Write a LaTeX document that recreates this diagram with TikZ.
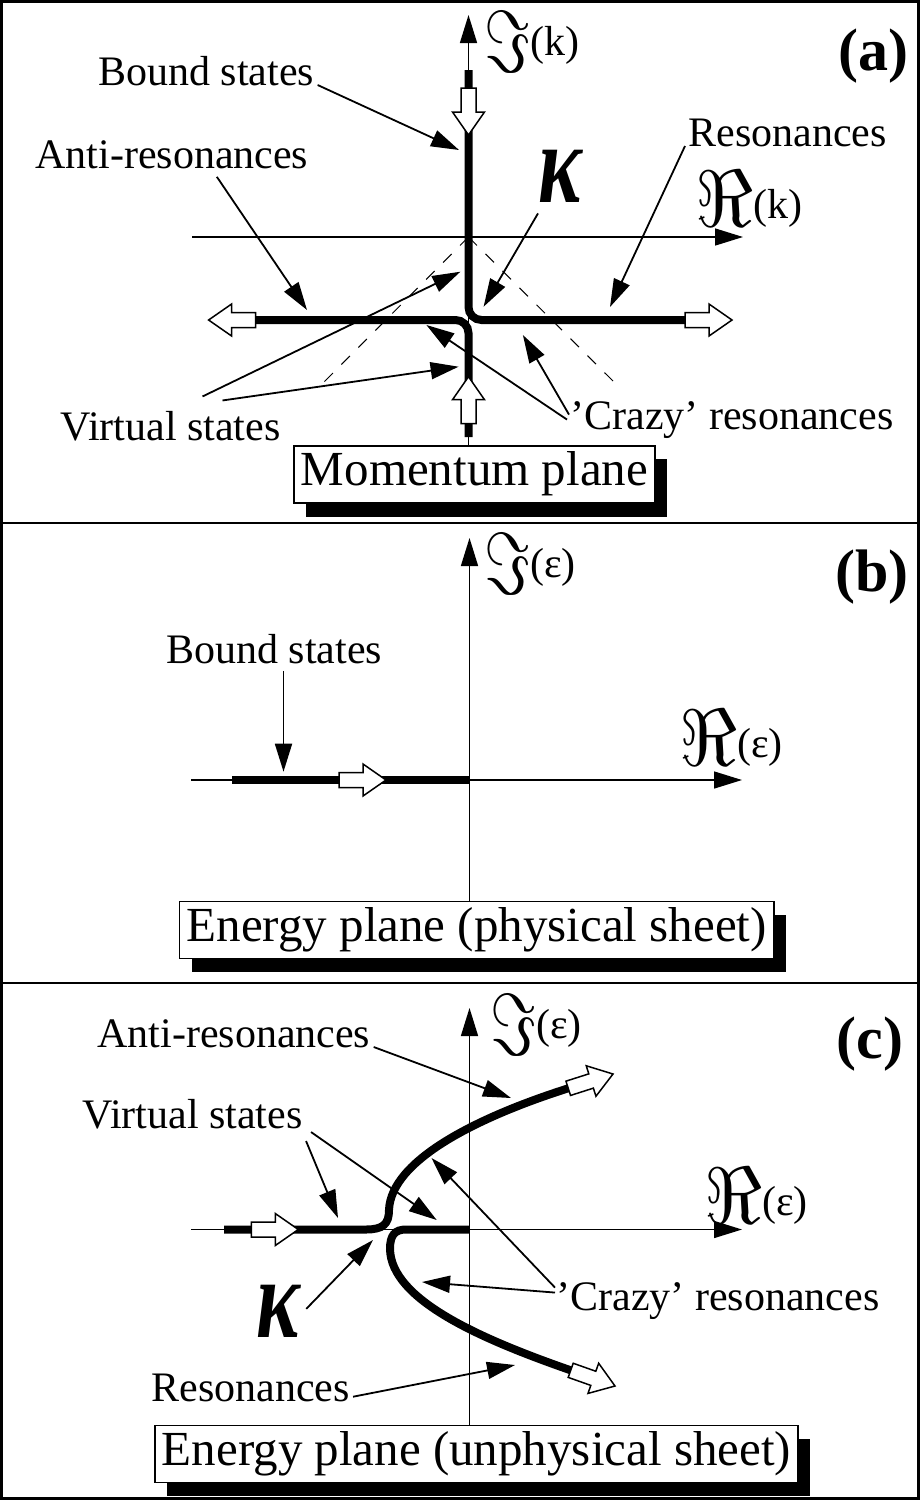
\RequirePackage{fix-cm}
\documentclass[tikz,border=0pt]{standalone}
\usepackage{fontspec}
\setmainfont{Liberation Serif}
\usetikzlibrary{arrows.meta,shadows}
\tikzset{
  lbl/.style={inner sep=1.5pt, font=\fontsize{21}{24}\selectfont},
  panel/.style={inner sep=0pt, font=\fontsize{30}{34}\selectfont\bfseries},
  planebox/.style={draw, line width=0.75pt, fill=white, inner xsep=3.5pt, inner ysep=3.25pt,
                   text height=16.75pt, text depth=5.3pt, font=\fontsize{24.5}{28}\selectfont,
                   drop shadow={shadow xshift=6pt, shadow yshift=-6.75pt, opacity=1, fill=black}},
  axis/.style={line width=0.75pt, -{Triangle[length=14pt,width=8.5pt]}},
  lead/.style={line width=0.9pt, -{Triangle[length=14pt,width=8.5pt]}},
  track/.style={line width=4pt},
  guide/.style={line width=0.5pt, dash pattern=on 6pt off 6pt},
  hollow/.pic={\draw[fill=white, line width=0.75pt]
     (0,0) -- (-23,16) -- (-23,7.5) -- (-47,7.5) -- (-47,-7.5) -- (-23,-7.5) -- (-23,-16) -- cycle;}
}
\newcommand{\Kap}{{\fontsize{57}{57}\selectfont\bfseries\itshape\scalebox{0.72}[1]{κ}}}
\newcommand{\ImOf}[1]{{\fontsize{44}{44}\selectfont\raisebox{-8.5pt}{\scalebox{0.72}[1]{$\Im$}}}(#1)}
\newcommand{\ReOf}[1]{{\fontsize{40}{40}\selectfont\raisebox{-4pt}{$\Re$}}(#1)}

\begin{document}
\begin{tikzpicture}[x=0.5pt,y=-0.5pt]
\useasboundingbox (0,0) rectangle (920,1500);
\coordinate (NW) at (1.5,1.5);
\coordinate (SE) at (918.5,1498.5);
\coordinate (s1) at (1.5,523);
\coordinate (s2) at (1.5,983);
\draw[line width=1.25pt] (NW) rectangle (SE);
\draw[line width=1.25pt] (s1) -- (s1 -| SE) (s2) -- (s2 -| SE);

% (a) momentum plane
\node[planebox] (mbox) at (474.5,474.5) {Momentum plane};
\coordinate (aO) at (468.5,237);
\coordinate (aImTip) at (468.5,15);
\coordinate (aReL) at (192,237);
\coordinate (aReTip) at (743,237);
\draw[axis] (aO |- mbox.north) -- (aImTip);
\draw[axis] (aReL) -- (aReTip);
\node[lbl, anchor=base west] (aIm) at (481,55) {\ImOf{k}};
\node[lbl, anchor=base west] (aRe) at (692,218) {\ReOf{k}};
\node[panel, anchor=base west] (la) at (838,70) {(a)};
\coordinate (dL) at (319,387);
\coordinate (dR) at (618,386);
\draw[guide] (aO) -- (dL) (aO) -- (dR);
\draw[track, rounded corners=6.5pt] (468.5,70) -- (468.5,320) -- (685,320);
\draw[track, rounded corners=6.5pt] (255,320) -- (468.5,320) -- (468.5,437);
\pic[rotate=-90] at (468.5,135) {hollow};
\pic[rotate=90] at (468.5,376.7) {hollow};
\pic[rotate=180] at (208.6,320) {hollow};
\pic at (732,320) {hollow};

\node[lbl, anchor=base west] (bs) at (95,85) {Bound states};
\node[lbl, anchor=base west] (ar) at (32,168) {Anti-resonances};
\node[lbl, anchor=base west] (rs) at (685,146) {Resonances};
\node[lbl, anchor=base west] (ka) at (535,202) {\Kap};
\node[lbl, anchor=base west] (vs) at (57,440) {Virtual states};
\node[lbl, anchor=base west] (cz) at (567,429) {'Crazy' resonances};
\coordinate (t-bs) at (459,150);
\coordinate (t-ar) at (307,310);
\coordinate (t-rs) at (610,307);
\coordinate (t-ka) at (483.6,306.7);
\coordinate (t-vs1) at (460.4,271.7);
\coordinate (t-vs2) at (458.6,366.7);
\coordinate (t-cz1) at (426.4,325);
\coordinate (t-cz2) at (522.9,335);
\draw[lead] (bs.base east) -- (t-bs);
\draw[lead] ([shift={(45,5)}]ar.south) -- (t-ar);
\draw[lead] (rs.base west) -- (t-rs);
\draw[lead] ([shift={(3,8)}]ka.south west) -- (t-ka);
\draw[lead] ([shift={(32,-11)}]vs.north) -- (t-vs1);
\draw[lead] ([shift={(52,-7)}]vs.north) -- (t-vs2);
\draw[lead] (cz.west) -- (t-cz1);
\draw[lead] ([shift={(2,-5)}]cz.west) -- (t-cz2);

% (b) energy plane, physical sheet
\node[planebox] (pbox) at (476.75,930) {Energy plane (physical sheet)};
\coordinate (bO) at (469.5,780);
\coordinate (bImTip) at (469.5,538);
\coordinate (bReL) at (191,780);
\coordinate (bReTip) at (742,780);
\draw[axis] (bO |- pbox.north) -- (bImTip);
\draw[axis] (bReL) -- (bReTip);
\node[lbl, anchor=base west] (bIm) at (481,577) {\ImOf{ε}};
\node[lbl, anchor=base west] (bRe) at (676,757) {\ReOf{ε}};
\node[panel, anchor=base west] (lb) at (835,591) {(b)};
\draw[track] (232,780) -- (bO);
\pic at (386,780) {hollow};
\node[lbl, anchor=base west] (bs2) at (163,663) {Bound states};
\coordinate (t-bs2) at (283.5,771.7);
\draw[lead] ([yshift=-2pt]bs2.south -| t-bs2) -- (t-bs2);

% (c) energy plane, unphysical sheet
\node[planebox] (ubox) at (476.5,1454) {Energy plane (unphysical sheet)};
\coordinate (cO) at (469.5,1229.5);
\coordinate (cImTip) at (469.5,1008);
\coordinate (cReL) at (191,1229.5);
\coordinate (cReTip) at (742,1229.5);
\draw[axis] (cO |- ubox.north) -- (cImTip);
\draw[axis] (cReL) -- (cReTip);
\node[lbl, anchor=base west] (cIm) at (487,1038) {\ImOf{ε}};
\node[lbl, anchor=base west] (cRe) at (701,1215) {\ReOf{ε}};
\node[panel, anchor=base west] (lc) at (836,1058) {(c)};
\draw[track] (224,1229.5) -- (366,1229.5) .. controls (383,1229.5) and (389,1224) .. (389,1210)
  .. controls (391,1160) and (478,1117) .. (568.2,1088.3);
\draw[track] (cO) -- (406,1229.5) .. controls (395,1229.5) and (390,1235) .. (390,1249)
  .. controls (391,1300) and (481,1339) .. (570.7,1370.3);
\pic at (298.3,1229.5) {hollow};
\pic[rotate=17.7] at (613,1074) {hollow};
\pic[rotate=-19.5] at (615,1386) {hollow};

\node[lbl, anchor=base west] (ar3) at (94,1047) {Anti-resonances};
\node[lbl, anchor=base west] (vs3) at (79,1128) {Virtual states};
\node[lbl, anchor=base west] (cz3) at (553,1310) {'Crazy' resonances};
\node[lbl, anchor=base west] (ka3) at (253,1337) {\Kap};
\node[lbl, anchor=base west] (rs3) at (148,1401.7) {Resonances};
\coordinate (t-ar3) at (511,1098);
\coordinate (t-vs31) at (338,1218);
\coordinate (t-vs32) at (436.7,1220);
\coordinate (t-cz31) at (431.5,1158);
\coordinate (t-cz32) at (422,1282);
\coordinate (t-ka3) at (373,1240);
\coordinate (t-rs3) at (515,1365);
\draw[lead] (ar3.base east) -- (t-ar3);
\draw[lead] ([yshift=-4.5pt]vs3.south east) -- (t-vs31);
\draw[lead] ([xshift=2.5pt]vs3.south east) -- (t-vs32);
\draw[lead] ([shift={(2,-13)}]cz3.west) -- (t-cz31);
\draw[lead] ([shift={(2,-8)}]cz3.west) -- (t-cz32);
\draw[lead] ([shift={(3,-2)}]ka3.east) -- (t-ka3);
\draw[lead] ([shift={(0,-5)}]rs3.base east) -- (t-rs3);
\end{tikzpicture}
\end{document}
